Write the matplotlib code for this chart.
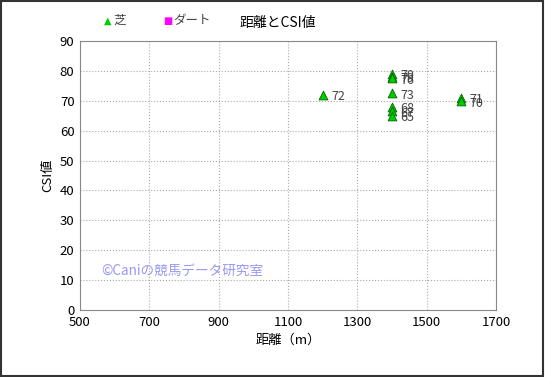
import matplotlib
matplotlib.use('Agg')
import matplotlib.pyplot as plt
from matplotlib.patches import Rectangle

plt.rcParams['font.family'] = ['Noto Sans CJK JP', 'DejaVu Sans']

# 芝 (turf) data: distance, CSI value, label
dist = [1200, 1400, 1400, 1400, 1400, 1400, 1400, 1400, 1600, 1600]
csi = [72, 79, 78, 77.5, 72.5, 68, 66.5, 65, 71, 69.8]
labels = ['72', '70', '79', '76', '73', '68', '67', '65', '71', '70']

fig = plt.figure(figsize=(5.45, 3.77), dpi=100)
ax = fig.add_axes([0.1468, 0.1777, 0.7633, 0.7136])

ax.scatter(dist, csi, marker='^', s=40, color='#00cc00', edgecolors='#006600',
           linewidths=0.6, zorder=3)
for x, y, t in zip(dist, csi, labels):
    ax.annotate(t, (x, y), xytext=(6, -4), textcoords='offset points',
                fontsize=9, color='#444444', zorder=4)

ax.set_xlim(500, 1700)
ax.set_ylim(0, 90)
ax.set_xticks(range(500, 1701, 200))
ax.set_yticks(range(0, 91, 10))
ax.grid(True, color='#aaaaaa', linestyle=':', linewidth=0.8)
ax.tick_params(labelsize=9.5, length=0, pad=4)
for s in ax.spines.values():
    s.set_color('#888888')
    s.set_linewidth(0.8)
ax.set_xlabel('距離（m）', fontsize=9.5)
ax.set_ylabel('CSI値', fontsize=9.5)

ax.text(0.05, 0.13, '©Caniの競馬データ研究室', transform=ax.transAxes,
        fontsize=9.8, color='#9999ee', zorder=5)

# legend and title in the header
fig.text(0.19, 0.945, '▲', color='#00cc00', fontsize=7, va='center',
         family=['DejaVu Sans'])
fig.text(0.208, 0.945, '芝', fontsize=9, color='#444444', va='center')
fig.text(0.3, 0.945, '■', color='#ff00ff', fontsize=7, va='center',
         family=['DejaVu Sans'])
fig.text(0.318, 0.945, 'ダート', fontsize=9, color='#444444', va='center')
fig.text(0.51, 0.94, '距離とCSI値', fontsize=10, ha='center', va='center')

fig.patches.append(Rectangle((0.002, 0.003), 0.995, 0.994, transform=fig.transFigure,
                             fill=False, edgecolor='#333333', linewidth=1.5))

fig.savefig('out.png', dpi=100)
